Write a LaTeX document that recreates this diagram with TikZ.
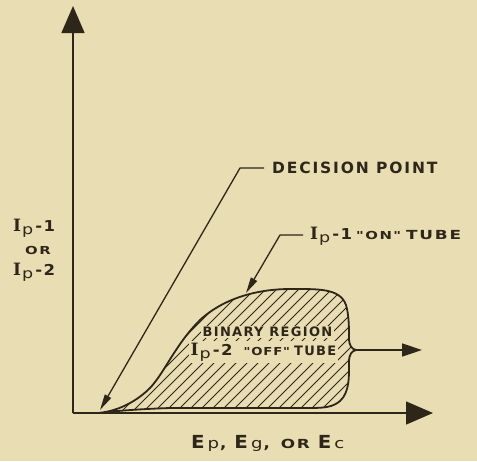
\documentclass[tikz,border=0pt]{standalone}
\usepackage{fontspec}
\usetikzlibrary{arrows.meta}
\newfontfamily\lettA[LetterSpace=12]{DejaVu Sans}
\newfontfamily\lettB[LetterSpace=10]{DejaVu Sans}
\newfontfamily\lettW[LetterSpace=14,FakeStretch=1.35]{DejaVu Sans}
\newfontfamily\lettQ[LetterSpace=8,FakeStretch=1.2]{DejaVu Sans}
\newfontfamily\lettE[FakeStretch=1.1]{DejaVu Sans}
\newfontfamily\lettL[FakeStretch=1.25]{DejaVu Sans}
\newfontfamily\lettser{DejaVu Serif}
\definecolor{bg}{HTML}{E8DDB3}
\definecolor{ink}{HTML}{2E2619}
\newcommand{\bigcaps}{\lettA\bfseries\fontsize{15.5}{16}\selectfont}
\newcommand{\midcaps}{\lettB\bfseries\fontsize{13}{14}\selectfont}
\newcommand{\widecaps}{\lettW\bfseries\fontsize{12.5}{13}\selectfont}
\newcommand{\quotecaps}{\lettW\bfseries\fontsize{11}{11}\selectfont}
\newcommand{\offcaps}{\lettQ\bfseries\fontsize{11}{11}\selectfont}
\newcommand{\Ip}[1]{{\lettser\bfseries\fontsize{17}{17}\selectfont I}\kern1pt\raisebox{-3pt}{\lettL\fontsize{14}{14}\selectfont p}\kern2pt{\lettE\bfseries\fontsize{15}{15}\selectfont -\kern1.5pt#1}}
\newcommand{\Esub}[1]{{\lettE\bfseries\fontsize{18}{18}\selectfont E}\kern3pt{\lettL\fontsize{14.5}{14}\selectfont #1}}
\tikzset{
  axis/.style={draw=ink, line width=1.5pt, -{Triangle[length=27pt,width=23pt]}},
  leader/.style={draw=ink, line width=1.3pt, -{Triangle[length=16pt,width=7pt]}},
  outline/.style={draw=ink, line width=1.8pt, line join=round},
  hatch/.style={draw=ink, line width=0.75pt},
  lbl/.style={text=ink, inner sep=2pt},
  masked/.style={text=ink, fill=bg, inner sep=1.5pt}
}
\begin{document}
\begin{tikzpicture}[x=1pt,y=-1pt]
\useasboundingbox (0,0) rectangle (477,461);
\fill[bg] (0,0) rectangle (477,461);

% axes
\coordinate (O) at (73,413);
\coordinate (ytip) at (73,6);
\coordinate (xtip) at (433,413);
\draw[axis] (O) -- (ytip);
\draw[axis] (O) -- (xtip);

% region path
\def\regionpath{(98,413)
 .. controls (120,411) and (138,400) .. (150,388)
 .. controls (165,372) and (175,345) .. (200,320)
 .. controls (225,297) and (260,289) .. (290,289)
 .. controls (318,289) and (340,288) .. (346,305)
 .. controls (349,315) and (349,328) .. (349,338)
 .. controls (349,346) and (352,349) .. (356,350)
 .. controls (352,351) and (349,354) .. (349,362)
 .. controls (349,375) and (350,392) .. (340,401)
 .. controls (333,407) and (325,408) .. (310,408)
 -- (170,408)
 .. controls (140,409) and (115,411) .. (98,413) -- cycle}

\begin{scope}
  \clip \regionpath;
  \foreach \i in {40,51,...,380}
    \draw[hatch] (\i,416) -- ++(150,-150);
\end{scope}

% texts inside the region (masking the hatch)
\node[masked, anchor=west] (bin) at (201,332) {\midcaps BINARY REGION};
\node[masked, anchor=west] (off) at (189,352) {\Ip{2}\kern11pt{\offcaps "OFF"}\kern4pt{\midcaps TUBE}};

\draw[outline] \regionpath;

% region arrow
\coordinate (cusp) at (356,350);
\coordinate (rtip) at (422,350);
\draw[draw=ink, line width=1.5pt, -{Triangle[length=20pt,width=13pt]}] (cusp) -- (rtip);

% decision point
\node[lbl, anchor=west] (dp) at (270,168) {\bigcaps DECISION POINT};
\coordinate (dpc) at (240,168);
\coordinate (dptip) at (100,410);
\draw[leader] (dp.west) ++(-6,0) -- (dpc) -- (dptip);

% on tube
\node[lbl, anchor=west] (on) at (308,236) {\Ip{1}\kern4pt{\quotecaps "ON"}\kern5pt{\widecaps TUBE}};
\coordinate (onc) at (280,235);
\coordinate (ontip) at (246,293);
\draw[leader] (on.west) ++(-5,-1) -- (onc) -- (ontip);

% y label
\node[lbl, anchor=west] (y1) at (11,228) {\Ip{1}};
\node[lbl, anchor=west] (yor) at (23,250) {\quotecaps OR};
\node[lbl, anchor=west] (y2) at (11,272) {\Ip{2}\kern4pt};

% x label
\node[lbl, anchor=west] (xl) at (189,443) {\Esub{p}\kern1pt{\lettE\bfseries\fontsize{15}{15}\selectfont,}\kern8pt\Esub{g}\kern1pt{\lettE\bfseries\fontsize{15}{15}\selectfont,}\kern11pt{\widecaps OR}\kern8pt\Esub{c}};
\end{tikzpicture}
\end{document}
